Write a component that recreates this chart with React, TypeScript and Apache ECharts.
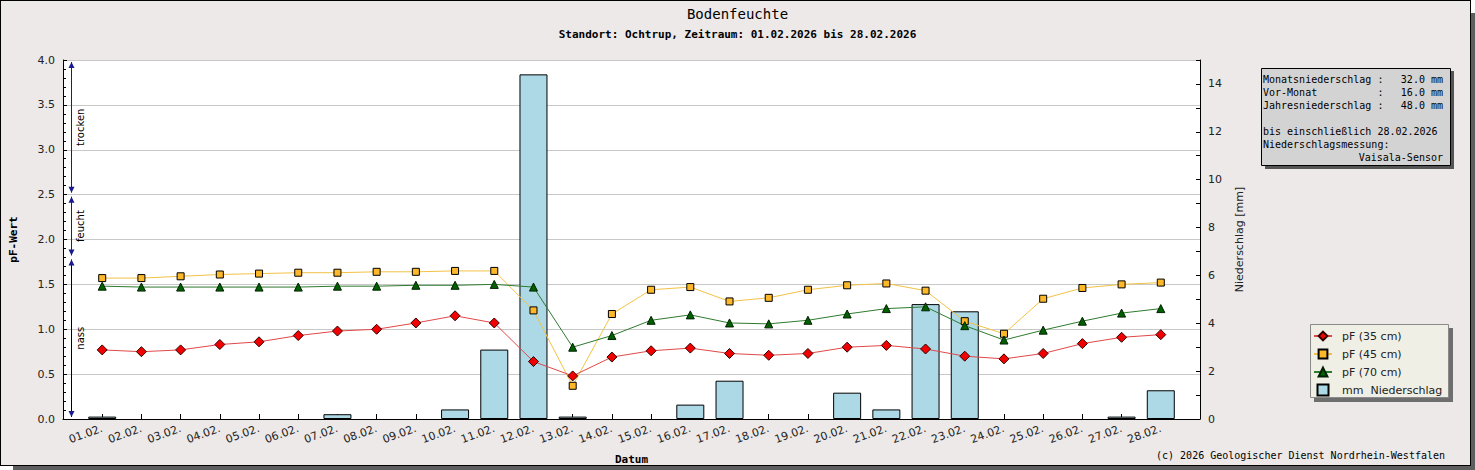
import React, { useEffect, useRef } from "react";
import * as echarts from "echarts";

// ---- data ----
const dates = [
  "01.02.", "02.02.", "03.02.", "04.02.", "05.02.", "06.02.", "07.02.",
  "08.02.", "09.02.", "10.02.", "11.02.", "12.02.", "13.02.", "14.02.",
  "15.02.", "16.02.", "17.02.", "18.02.", "19.02.", "20.02.", "21.02.",
  "22.02.", "23.02.", "24.02.", "25.02.", "26.02.", "27.02.", "28.02.",
];
const pf35 = [0.77, 0.75, 0.77, 0.83, 0.86, 0.93, 0.98, 1.0, 1.07, 1.15, 1.07, 0.64, 0.48, 0.69, 0.76, 0.79, 0.73, 0.71, 0.73, 0.8, 0.82, 0.78, 0.7, 0.67, 0.73, 0.84, 0.91, 0.94];
const pf45 = [1.57, 1.57, 1.59, 1.61, 1.62, 1.63, 1.63, 1.64, 1.64, 1.65, 1.65, 1.21, 0.37, 1.17, 1.44, 1.47, 1.31, 1.35, 1.44, 1.49, 1.51, 1.43, 1.09, 0.95, 1.34, 1.46, 1.5, 1.52];
const pf70 = [1.48, 1.47, 1.47, 1.47, 1.47, 1.47, 1.48, 1.48, 1.49, 1.49, 1.5, 1.47, 0.8, 0.93, 1.1, 1.16, 1.07, 1.06, 1.1, 1.17, 1.23, 1.25, 1.04, 0.88, 0.99, 1.09, 1.18, 1.23];
const rain = [0.1, 0, 0, 0, 0, 0, 0.2, 0, 0, 0.4, 2.9, 14.4, 0.1, 0, 0, 0.6, 1.6, 0, 0, 1.1, 0.4, 4.8, 4.5, 0, 0, 0, 0.1, 1.2];

const seriesNames = ["pF (35 cm)", "pF (45 cm)", "pF (70 cm)", "mm  Niederschlag"];
const zoneLabels = ["trocken", "feucht", "nass"];
const zoneFrom = [2.5, 1.8, 0];
const zoneTo = [4.0, 2.5, 1.8];

const infoNames = ["Monatsniederschlag", "Vor-Monat", "Jahresniederschlag"];
const infoValues = ["32.0 mm", "16.0 mm", "48.0 mm"];
const infoUntil = "bis einschließlich 28.02.2026";
const infoMeasure = "Niederschlagsmessung:";
const infoSensor = "Vaisala-Sensor";

const titleText = "Bodenfeuchte";
const subText = "Standort: Ochtrup, Zeitraum: 01.02.2026 bis 28.02.2026";
const copyright = "(c) 2026 Geologischer Dienst Nordrhein-Westfalen";

const MONO = '"DejaVu Sans Mono", monospace';
const SANS = '"DejaVu Sans", sans-serif';

function buildOption(): any {
  const toPairs = (arr: number[]) => arr.map((v, i) => [i + 1, v]);
  const rainPairs = rain.map((v, i) => [i + 1, v]).filter((d) => d[1] > 0);

  const infoX = 1263;
  const colonX = 1263 + 19 * 6.02;
  const rightX = 1443;
  const rowY = [79, 92.1, 105.2];
  const infoText: any[] = [];
  infoNames.forEach((n, i) => {
    infoText.push({ type: "text", x: infoX, y: rowY[i], z: 12, style: { text: n, fontFamily: MONO, fontSize: 10, fill: "#000", align: "left", verticalAlign: "middle" } });
    infoText.push({ type: "text", x: colonX, y: rowY[i], z: 12, style: { text: ":", fontFamily: MONO, fontSize: 10, fill: "#000", align: "left", verticalAlign: "middle" } });
    infoText.push({ type: "text", x: rightX, y: rowY[i], z: 12, style: { text: infoValues[i], fontFamily: MONO, fontSize: 10, fill: "#000", align: "right", verticalAlign: "middle" } });
  });
  infoText.push({ type: "text", x: infoX, y: 131.4, z: 12, style: { text: infoUntil, fontFamily: MONO, fontSize: 10, fill: "#000", align: "left", verticalAlign: "middle" } });
  infoText.push({ type: "text", x: infoX, y: 144.5, z: 12, style: { text: infoMeasure, fontFamily: MONO, fontSize: 10, fill: "#000", align: "left", verticalAlign: "middle" } });
  infoText.push({ type: "text", x: rightX, y: 157.6, z: 12, style: { text: infoSensor, fontFamily: MONO, fontSize: 10, fill: "#000", align: "right", verticalAlign: "middle" } });

  return {
    animation: false,
    backgroundColor: "transparent",
    textStyle: { fontFamily: SANS },
    title: {
      text: titleText,
      subtext: subText,
      left: "center",
      top: 7,
      itemGap: 8,
      padding: 0,
      textStyle: { fontFamily: MONO, fontSize: 14, fontWeight: "normal", color: "#000" },
      subtextStyle: { fontFamily: MONO, fontSize: 11, fontWeight: "bold", color: "#000" },
    },
    grid: {
      left: 60,
      right: 275,
      top: 60,
      bottom: 50,
      show: true,
      backgroundColor: "#ffffff",
      borderWidth: 0,
    },
    legend: {
      orient: "vertical",
      left: 1310,
      top: 324,
      padding: [3, 8, 1, 3],
      itemWidth: 18,
      itemHeight: 11,
      itemGap: 0,
      backgroundColor: "transparent",
      textStyle: { fontFamily: SANS, fontSize: 11, color: "#222", lineHeight: 18, padding: [0, 0, 0, 5] },
      data: [
        { name: seriesNames[0] },
        { name: seriesNames[1] },
        { name: seriesNames[2] },
        { name: seriesNames[3], icon: "path://M0,0h10v10h-10z" },
      ],
    },
    xAxis: {
      type: "value",
      min: 0,
      max: 29,
      interval: 1,
      name: "Datum",
      nameLocation: "middle",
      nameGap: 35,
      nameTextStyle: { fontFamily: MONO, fontSize: 11, fontWeight: "bold", color: "#000" },
      axisLine: { show: true, lineStyle: { color: "#000", width: 1 } },
      axisTick: { show: true, inside: true, length: 5, lineStyle: { color: "#000" } },
      splitLine: { show: false },
      axisLabel: {
        rotate: 20,
        margin: 9,
        fontSize: 11,
        fontFamily: SANS,
        color: "#222",
        formatter: (v: number) => dates[v - 1] ?? "",
      },
    },
    yAxis: [
      {
        type: "value",
        min: 0,
        max: 4,
        interval: 0.5,
        position: "left",
        name: "pF-Wert",
        nameLocation: "middle",
        nameGap: 44,
        nameRotate: 90,
        nameTextStyle: { fontFamily: MONO, fontSize: 11, fontWeight: "bold", color: "#000" },
        axisLine: { show: true, lineStyle: { color: "#000", width: 1 } },
        axisTick: { show: true, inside: true, length: 4, lineStyle: { color: "#000" } },
        minorTick: { show: true, splitNumber: 5, length: 3, lineStyle: { color: "#000" } },
        splitLine: { show: true, lineStyle: { color: "#c8c8c8", width: 1 } },
        axisLabel: { fontSize: 11, fontFamily: SANS, color: "#222", margin: 8, formatter: (v: number) => v.toFixed(1) },
      },
      {
        type: "value",
        min: 0,
        max: 15,
        interval: 1,
        position: "right",
        name: "Niederschlag [mm]",
        nameLocation: "middle",
        nameGap: 34,
        nameRotate: 90,
        nameTextStyle: { fontFamily: SANS, fontSize: 11, color: "#222" },
        axisLine: { show: true, lineStyle: { color: "#000", width: 1 } },
        axisTick: { show: true, inside: true, length: 4, lineStyle: { color: "#000" } },
        splitLine: { show: false },
        axisLabel: {
          fontSize: 11,
          fontFamily: SANS,
          color: "#222",
          margin: 8,
          formatter: (v: number) => (v % 2 === 0 && v < 15 ? String(v) : ""),
        },
      },
    ],
    graphic: [
      // info box
      { type: "rect", z: 10, shape: { x: 1265, y: 71, width: 189, height: 98 }, style: { fill: "#555" } },
      { type: "rect", z: 11, shape: { x: 1261.5, y: 68.5, width: 189, height: 97 }, style: { fill: "#D3D3D3", stroke: "#000", lineWidth: 1 } },
      ...infoText,
      // legend frame
      { type: "rect", z: 1, shape: { x: 1314, y: 328, width: 139, height: 74 }, style: { fill: "#6e6e6e" } },
      { type: "rect", z: 2, shape: { x: 1310.5, y: 324.5, width: 138, height: 73 }, style: { fill: "#EFEFE6", stroke: "#8a8a8a", lineWidth: 1 } },
      // copyright
      { type: "text", z: 5, x: 1445, y: 455, style: { text: copyright, fontFamily: MONO, fontSize: 10, fill: "#000", align: "right", verticalAlign: "middle" } },
    ],
    series: [
      {
        name: seriesNames[3],
        type: "bar",
        yAxisIndex: 1,
        barWidth: 28,
        z: 2,
        itemStyle: { color: "#ADD8E6", borderColor: "#000", borderWidth: 1 },
        data: rainPairs,
      },
      {
        name: seriesNames[0],
        type: "line",
        yAxisIndex: 0,
        z: 5,
        symbol: "diamond",
        symbolSize: 10,
        itemStyle: { color: "#F00000", borderColor: "#300", borderWidth: 1 },
        lineStyle: { color: "#E04848", width: 1 },
        data: toPairs(pf35),
      },
      {
        name: seriesNames[1],
        type: "line",
        yAxisIndex: 0,
        z: 4,
        symbol: "rect",
        symbolSize: 7,
        itemStyle: { color: "#FDB829", borderColor: "#000", borderWidth: 1 },
        lineStyle: { color: "#F2C244", width: 1 },
        data: toPairs(pf45),
      },
      {
        name: seriesNames[2],
        type: "line",
        yAxisIndex: 0,
        z: 4,
        symbol: "triangle",
        symbolSize: 8,
        itemStyle: { color: "#006000", borderColor: "#002000", borderWidth: 1 },
        lineStyle: { color: "#2E7B2E", width: 1 },
        data: toPairs(pf70),
      },
      {
        name: "zones",
        type: "custom",
        xAxisIndex: 0,
        yAxisIndex: 0,
        z: 6,
        silent: true,
        clip: false,
        data: zoneFrom.map((f, i) => [f, zoneTo[i]]),
        renderItem: (params: any, api: any) => {
          const i = params.dataIndex;
          const top = api.coord([0.2, zoneTo[i]]);
          const bot = api.coord([0.2, zoneFrom[i]]);
          const x = Math.round(top[0]) + 0.5;
          const yTop = top[1] + 2;
          const yBot = bot[1] - 2;
          const arrowCol = "#1a1a8c";
          const lineCol = i === 2 ? "#000" : "#1a1a8c";
          return {
            type: "group",
            children: [
              { type: "line", shape: { x1: x, y1: yTop, x2: x, y2: yBot }, style: { stroke: lineCol, lineWidth: 1 } },
              { type: "polygon", shape: { points: [[x, yTop], [x - 3, yTop + 6], [x + 3, yTop + 6]] }, style: { fill: arrowCol } },
              { type: "polygon", shape: { points: [[x, yBot], [x - 3, yBot - 6], [x + 3, yBot - 6]] }, style: { fill: arrowCol } },
              {
                type: "text",
                x: x + 9,
                y: (yTop + yBot) / 2,
                rotation: Math.PI / 2,
                style: { text: zoneLabels[i], fontFamily: SANS, fontSize: 10, fill: "#000", align: "center", verticalAlign: "middle" },
              },
            ],
          };
        },
      },
    ],
  };
}

export default function App() {
  const ref = useRef<HTMLDivElement>(null);
  useEffect(() => {
    if (!ref.current) return;
    const chart = echarts.init(ref.current, null, { renderer: "svg" });
    chart.setOption(buildOption());
    return () => chart.dispose();
  }, []);
  return (
    <div style={{ position: "absolute", left: 0, top: 0, width: 1475, height: 470, background: "#fff", overflow: "hidden" }}>
      <div style={{ position: "absolute", left: 13, top: 466, width: 1462, height: 4, background: "#5e5e5e" }} />
      <div style={{ position: "absolute", left: 1471, top: 13, width: 4, height: 457, background: "#5e5e5e" }} />
      <div style={{ position: "absolute", left: 0, top: 0, width: 1469, height: 464, border: "1px solid #000", background: "#ECE9E8" }} />
      <div ref={ref} style={{ position: "absolute", left: 0, top: 0, width: 1475, height: 470 }} />
    </div>
  );
}
